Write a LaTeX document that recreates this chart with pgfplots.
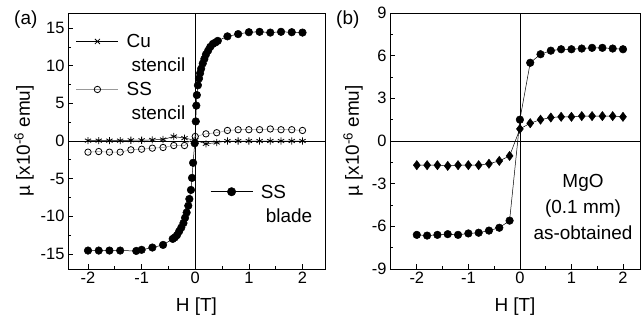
\documentclass[border=0pt]{standalone}
\usepackage{fontspec}
\setmainfont{Liberation Sans}
\usepackage{pgfplots}
\pgfplotsset{compat=1.18}
\pgfplotsset{
  myaxis/.style={
    scale only axis,
    height=256bp,
    anchor=south west,
    axis line style={line width=0.9bp},
    tick pos=left,
    tick align=inside,
    major tick length=5bp,
    minor tick length=3bp,
    every tick/.style={black, line width=0.7bp},
    minor x tick num=1,
    minor y tick num=1,
    xtick={-2,-1,0,1,2},
    /pgf/number format/assume math mode=true,
    ticklabel style={font=\fontsize{16.5}{19}\selectfont},
    label style={font=\fontsize{19}{22}\selectfont},
    xlabel={H [T]},
    ylabel={\textmu{} [x10\textsuperscript{-6} emu]},
    xlabel style={at={(axis description cs:0.5,-0.146)}, anchor=center},
    extra x ticks={0}, extra x tick labels={},
    extra y ticks={0}, extra y tick labels={},
    extra tick style={grid=major, major grid style={black, line width=0.7bp}, major tick length=0pt},
    legend style={draw=none, fill=none, inner sep=0bp, column sep=8bp, row sep=11bp,
      font=\fontsize{19}{22}\selectfont,
      nodes={inner sep=0bp, text depth=0bp, text height=13bp}},
    legend cell align=left,
  },
  limg/.style={legend image code/.code={%
    \draw[mark repeat=2,mark phase=2,##1] plot coordinates {(0bp,0bp) (21bp,0bp) (42bp,0bp)};}},
}
\begin{document}
\begin{tikzpicture}
\path[use as bounding box] (0bp,0bp) rectangle (641bp,327bp);
% ---------- panel (a)
\begin{axis}[myaxis, at={(68bp,58bp)}, width=257bp,
  xmin=-2.373, xmax=2.42, ymin=-17, ymax=17,
  ytick={-15,-10,...,15},
  ylabel style={at={(axis description cs:-0.171,0.5)}, anchor=center},
  legend style={at={(axis description cs:0.031,0.915)}, anchor=north west},
]
\addplot[black, line width=0.5bp, mark=asterisk, mark size=3.6bp, mark options={line width=0.8bp}, limg,
  legend image post style={mark=x}] coordinates {
(-2.0,0.05) (-1.8,0.05) (-1.6,0.05) (-1.4,0.05) (-1.2,0.1) (-1.0,0.1) (-0.8,0.15)
(-0.6,0.2) (-0.4,0.6) (-0.2,0.38) (0.0,0.1) (0.2,-0.38) (0.4,-0.2) (0.6,0.0)
(0.8,0.0) (1.0,0.0) (1.2,0.0) (1.4,0.0) (1.6,0.0) (1.8,0.0) (2.0,0.0)};
\addlegendentry{Cu}
\addlegendimage{empty legend}
\addlegendentry{\hspace*{5bp}stencil}
\addplot[gray!80, line width=0.5bp, mark=o, mark size=3.2bp, mark options={draw=black, line width=0.8bp}, limg] coordinates {
(-2.0,-1.48) (-1.8,-1.4) (-1.6,-1.48) (-1.4,-1.48) (-1.2,-1.17) (-1.0,-1.09) (-0.8,-0.95)
(-0.6,-0.86) (-0.4,-0.6) (-0.2,-0.6) (0.0,0.6) (0.2,0.95) (0.4,1.1) (0.6,1.4)
(0.8,1.5) (1.0,1.5) (1.2,1.5) (1.4,1.6) (1.6,1.5) (1.8,1.5) (2.0,1.4)};
\addlegendentry{SS}
\addlegendimage{empty legend}
\addlegendentry{\hspace*{5bp}stencil}
\addplot[black, line width=0.5bp, mark=*, mark size=3.8bp, forget plot] coordinates {
(-2.0,-14.55) (-1.8,-14.55) (-1.6,-14.55) (-1.4,-14.55) (-1.1,-14.6) (-1.0,-14.45)
(-0.8,-14.15) (-0.6,-13.8) (-0.42,-13.0) (-0.38,-12.8) (-0.34,-12.5) (-0.30,-12.0)
(-0.26,-11.5) (-0.22,-10.9) (-0.19,-10.2) (-0.16,-9.5) (-0.13,-8.6) (-0.11,-7.7)
(-0.08,-6.5) (-0.06,-4.9) (-0.04,-2.9) (-0.01,-0.3) (0.01,2.6) (0.02,4.7) (0.03,6.1)
(0.05,7.4) (0.07,8.3) (0.09,9.0) (0.11,9.6) (0.14,10.3) (0.17,10.9) (0.20,11.5)
(0.24,12.0) (0.28,12.5) (0.33,12.9) (0.38,13.1) (0.42,13.3) (0.6,13.9) (0.8,14.2)
(1.0,14.45) (1.2,14.5) (1.4,14.4) (1.6,14.5) (1.8,14.45) (2.0,14.4)};
\end{axis}
% overlay axis for the "SS blade" legend
\begin{axis}[myaxis, at={(68bp,58bp)}, width=257bp, hide axis,
  xmin=-2.373, xmax=2.42, ymin=-17, ymax=17, xlabel={}, ylabel={},
  legend style={at={(axis description cs:0.553,0.328)}, anchor=north west},
]
\addlegendimage{black, line width=0.5bp, mark=*, mark size=4.2bp, limg}
\addlegendentry{SS}
\addlegendimage{empty legend}
\addlegendentry{\hspace*{5bp}blade}
\end{axis}
% ---------- panel (b)
\begin{axis}[myaxis, at={(390bp,58bp)}, width=250bp,
  xmin=-2.52, xmax=2.33, ymin=-9, ymax=9,
  ytick={-9,-6,...,9},
  ylabel style={at={(axis description cs:-0.148,0.5)}, anchor=center},
]
\addplot[black, line width=0.5bp, mark=*, mark size=3.8bp] coordinates {
(-2.0,-6.6) (-1.8,-6.65) (-1.6,-6.6) (-1.4,-6.55) (-1.2,-6.6) (-1.0,-6.5) (-0.8,-6.45)
(-0.6,-6.3) (-0.4,-6.1) (-0.2,-5.6) (0.0,1.5) (0.2,5.5) (0.4,6.1) (0.6,6.35)
(0.8,6.45) (1.0,6.45) (1.2,6.5) (1.4,6.55) (1.6,6.55) (1.8,6.5) (2.0,6.45)};
\addplot[black, line width=0.5bp, mark=diamond*, mark size=4.6bp] coordinates {
(-2.0,-1.7) (-1.8,-1.7) (-1.6,-1.7) (-1.4,-1.75) (-1.2,-1.7) (-1.0,-1.7) (-0.8,-1.7)
(-0.6,-1.6) (-0.4,-1.4) (-0.2,-1.05) (0.0,0.85) (0.2,1.25) (0.4,1.5) (0.6,1.65)
(0.8,1.7) (1.0,1.7) (1.2,1.75) (1.4,1.75) (1.6,1.75) (1.8,1.75) (2.0,1.7)};
\end{axis}
\node[anchor=base west, inner sep=0pt, font=\fontsize{19}{22}\selectfont] at (14bp,302.5bp) {(a)};
\node[anchor=base west, inner sep=0pt, font=\fontsize{19}{22}\selectfont] at (336bp,302.5bp) {(b)};
\node[align=center, inner sep=0pt, font=\fontsize{19}{26.5}\selectfont] at (583bp,120bp) {MgO\\(0.1 mm)\\as-obtained};
\end{tikzpicture}
\end{document}
